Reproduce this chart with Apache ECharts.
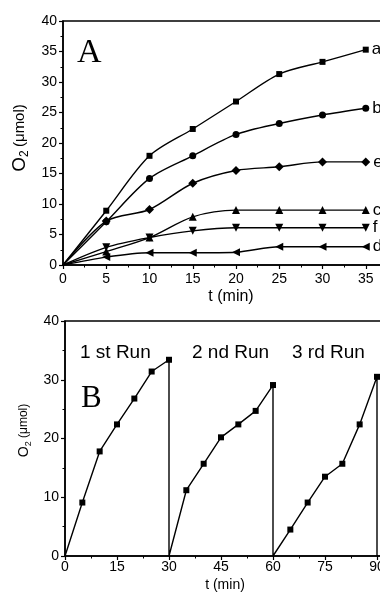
<!DOCTYPE html>
<html><head><meta charset="utf-8">
<script src="https://cdn.jsdelivr.net/npm/echarts@6/dist/echarts.min.js"></script>
<style>html,body{margin:0;padding:0;background:#fff}#c{width:380px;height:596px}</style>
</head><body><div id="c"></div>
<script>
// Panel A
const timesA = [0, 5, 10, 15, 20, 25, 30, 35];
const seriesA_a = [0, 8.9, 17.9, 22.3, 26.8, 31.3, 33.3, 35.3];
const seriesA_b = [0, 7.1, 14.2, 17.9, 21.4, 23.2, 24.6, 25.7];
const seriesA_e = [0, 7.2, 9.1, 13.4, 15.5, 16.1, 16.9, 16.9];
const seriesA_c = [0, 2.2, 4.5, 7.9, 9.0, 9.0, 9.0, 9.0];
const seriesA_f = [0, 2.9, 4.5, 5.6, 6.1, 6.1, 6.1, 6.1];
const seriesA_d = [0, 1.3, 2.0, 2.0, 2.1, 3.0, 3.0, 3.0];
const namesA = ['a', 'b', 'e', 'c', 'f', 'd'];
// Panel B
const run1Times = [0, 5, 10, 15, 20, 25, 30];
const run1Vals = [0, 9.1, 17.8, 22.4, 26.8, 31.4, 33.4];
const run2Times = [30, 35, 40, 45, 50, 55, 60];
const run2Vals = [0, 11.2, 15.7, 20.2, 22.4, 24.7, 29.1];
const run3Times = [60, 65, 70, 75, 80, 85, 90];
const run3Vals = [0, 4.5, 9.1, 13.5, 15.7, 22.4, 30.5];
const runLabels = ['1 st Run', '2 nd Run', '3 rd Run'];

const chart = echarts.init(document.getElementById('c'));
const FONT = 'Liberation Sans, Arial, sans-serif';
const axisCommon = {
  axisLine: {lineStyle: {color: '#000', width: 1.5}},
  axisTick: {inside: false, length: 4, lineStyle: {color: '#000', width: 1.2}},
  minorTick: {show: true, splitNumber: 2, length: 2.5, lineStyle: {color: '#000', width: 1}},
  splitLine: {show: false},
  axisLabel: {color: '#000', fontSize: 14, fontFamily: FONT}
};

const symA = [
  {symbol: 'rect', size: 6, rotate: 0},
  {symbol: 'circle', size: 7, rotate: 0},
  {symbol: 'diamond', size: 9, rotate: 0},
  {symbol: 'triangle', size: 8, rotate: 0},
  {symbol: 'triangle', size: 8, rotate: 180},
  {symbol: 'triangle', size: 8, rotate: 90}
];
const valsA = [seriesA_a, seriesA_b, seriesA_e, seriesA_c, seriesA_f, seriesA_d];

const seriesList = valsA.map((vals, i) => ({
  type: 'line', xAxisIndex: 0, yAxisIndex: 0, name: namesA[i],
  smooth: 0.3,
  symbol: symA[i].symbol, symbolSize: symA[i].size, symbolRotate: symA[i].rotate,
  lineStyle: {color: '#000', width: 1.4},
  itemStyle: {color: '#000'},
  data: vals.map((v, j) => {
    const d = {value: [timesA[j], v]};
    if (j === 0) d.symbol = 'none';
    if (j === vals.length - 1) d.label = {show: true, position: 'right', distance: 3, formatter: namesA[i], color: '#000', fontSize: 17, fontFamily: FONT};
    return d;
  })
}));

const dataB = [];
[[run1Times, run1Vals], [run2Times, run2Vals], [run3Times, run3Vals]].forEach(([t, v]) => {
  t.forEach((x, j) => {
    const d = {value: [x, v[j]]};
    if (v[j] === 0) d.symbol = 'none';
    dataB.push(d);
  });
  dataB.push({value: [t[t.length - 1], 0], symbol: 'none'});
});
seriesList.push({
  type: 'line', xAxisIndex: 1, yAxisIndex: 1, name: 'B',
  symbol: 'rect', symbolSize: 6,
  lineStyle: {color: '#000', width: 1.4}, itemStyle: {color: '#000'},
  data: dataB
});

chart.setOption({
  backgroundColor: '#fff',
  animation: false,
  grid: [
    {left: 63, top: 21, height: 244, width: 346, outerBoundsMode: 'none', containLabel: false, show: true, borderColor: '#000', borderWidth: 1.5, backgroundColor: 'transparent'},
    {left: 65, top: 321, height: 235, width: 364, outerBoundsMode: 'none', containLabel: false, show: true, borderColor: '#000', borderWidth: 1.5, backgroundColor: 'transparent'}
  ],
  xAxis: [
    Object.assign({}, axisCommon, {gridIndex: 0, type: 'value', min: 0, max: 40, interval: 5,
      axisLabel: Object.assign({}, axisCommon.axisLabel, {margin: 7}),
      name: 't (min)', nameLocation: 'middle', nameGap: 24,
      nameTextStyle: {color: '#000', fontSize: 16, fontFamily: FONT, padding: [0, 10, 0, 0]}}),
    Object.assign({}, axisCommon, {gridIndex: 1, type: 'value', min: 0, max: 105, interval: 15,
      axisLabel: Object.assign({}, axisCommon.axisLabel, {margin: 4}),
      name: 't (min)', nameLocation: 'middle', nameGap: 22,
      nameTextStyle: {color: '#000', fontSize: 14, fontFamily: FONT, padding: [0, 44, 0, 0]}})
  ],
  yAxis: [
    Object.assign({}, axisCommon, {gridIndex: 0, type: 'value', min: 0, max: 40, interval: 5,
      axisLabel: Object.assign({}, axisCommon.axisLabel, {margin: 6}),
      name: '{o|O}{s|2} {u|(μmol)}', nameLocation: 'middle', nameGap: 32, nameRotate: 90,
      nameTextStyle: {color: '#000', fontFamily: FONT, padding: [0, 0, 0, 10],
        rich: {o: {fontSize: 19, fontFamily: FONT, color: '#000'}, s: {fontSize: 12, fontFamily: FONT, color: '#000', padding: [10, 0, 0, 0]}, u: {fontSize: 15, fontFamily: FONT, color: '#000'}}}}),
    Object.assign({}, axisCommon, {gridIndex: 1, type: 'value', min: 0, max: 40, interval: 10,
      axisLabel: Object.assign({}, axisCommon.axisLabel, {margin: 6}),
      name: '{o|O}{s|2} {u|(μmol)}', nameLocation: 'middle', nameGap: 30, nameRotate: 90,
      nameTextStyle: {color: '#000', fontFamily: FONT, padding: [0, 0, 0, 16],
        rich: {o: {fontSize: 14, fontFamily: FONT, color: '#000'}, s: {fontSize: 9, fontFamily: FONT, color: '#000', padding: [8, 0, 0, 0]}, u: {fontSize: 12, fontFamily: FONT, color: '#000'}}}})
  ],
  graphic: [
    {type: 'text', left: 77, top: 36, style: {text: 'A', font: '34px "Liberation Serif", "Times New Roman", serif', fill: '#000'}},
    {type: 'text', left: 81, top: 383, style: {text: 'B', font: '31px "Liberation Serif", "Times New Roman", serif', fill: '#000'}},
    {type: 'text', left: 80, top: 343, style: {text: runLabels[0], font: '19px ' + FONT, fill: '#000'}},
    {type: 'text', left: 192, top: 343, style: {text: runLabels[1], font: '19px ' + FONT, fill: '#000'}},
    {type: 'text', left: 292, top: 343, style: {text: runLabels[2], font: '19px ' + FONT, fill: '#000'}}
  ],
  series: seriesList
});
</script></body></html>
